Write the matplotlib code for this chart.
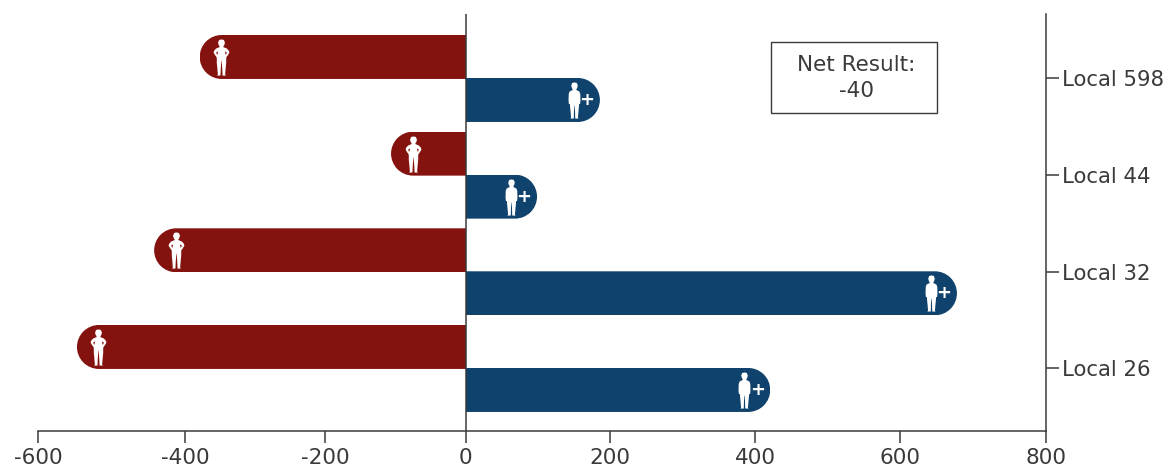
import numpy as np
import matplotlib
matplotlib.use('Agg')
import matplotlib.pyplot as plt
from matplotlib.patches import Rectangle
from matplotlib.path import Path
from matplotlib.transforms import IdentityTransform, offset_copy

# Values
locals_ = ['Local 26', 'Local 32', 'Local 44', 'Local 598']
lost = [-547, -442, -106, -379]
gained = [421, 678, 99, 186]
x_ticks = [-600, -400, -200, 0, 200, 400, 600, 800]
net_lines = 'Net Result:\n-40'

RED = '#84130F'
BLUE = '#0F426C'
INK = '#3A3A3A'
plt.rcParams['font.family'] = ['DejaVu Sans']

W, H = 1174, 466
fig = plt.figure(figsize=(W / 100, H / 100), dpi=100)
ax = fig.add_axes([38 / W, 1 - 431 / H, (1046 - 38) / W, (431 - 14) / H])

# The tick spacing in the original is not quite even, so map it by hand
tick_px = [38, 185, 325, 465.5, 610, 755, 900, 1046]


def forward(v):
    return np.interp(v, x_ticks, tick_px)


def inverse(p):
    return np.interp(p, tick_px, x_ticks)


ax.set_xscale('function', functions=(forward, inverse))
ax.set_xlim(x_ticks[0], x_ticks[-1])
ax.set_ylim(-0.647, 3.667)

y = np.arange(len(locals_))
bar_h = 0.455
red_bars = ax.barh(y + 0.2224, lost, height=bar_h, color=RED, zorder=2)
blue_bars = ax.barh(y - 0.2224, gained, height=bar_h, color=BLUE, zorder=2)


def pill(x0, x1, y0, y1):
    # closed shape with true half circles at both ends, in pixels
    r = (y1 - y0) / 2
    cy = (y0 + y1) / 2
    a = Path.arc(90, 270)
    b = Path.arc(-90, 90)
    verts = np.vstack([a.vertices * r + [x0 + r, cy], b.vertices * r + [x1 - r, cy], [[x0 + r, y1]]])
    codes = list(a.codes) + [Path.LINETO] + list(b.codes[1:]) + [Path.CLOSEPOLY]
    return Path(verts, codes)


# Round the outer end of each bar by clipping it in pixel space
fig.canvas.draw()
for bars, side in ((red_bars, -1), (blue_bars, 1)):
    for bar in bars:
        ext = bar.get_window_extent()
        x0 = ext.x0 if side < 0 else ext.x0 - 60
        x1 = ext.x1 + 60 if side < 0 else ext.x1
        bar.set_clip_path(pill(x0, x1, ext.y0, ext.y1), IdentityTransform())

# Person silhouettes, right half then mirrored
hips_half = [(0, 1), (0.13, 0.97), (0.19, 0.83), (0.16, 0.70), (0.10, 0.62), (0.12, 0.57),
             (0.29, 0.50), (0.39, 0.40), (0.44, 0.28), (0.35, 0.12), (0.27, 0.02),
             (0.26, -0.10), (0.26, -0.30), (0.23, -0.60), (0.20, -0.95), (0.25, -1),
             (0.06, -1), (0.04, -0.60), (0.01, -0.20), (0, -0.15)]
hips_hole = [(0.18, 0.34), (0.24, 0.14), (0.30, 0.27)]
arms_half = [(0, 1), (0.13, 0.97), (0.18, 0.83), (0.15, 0.70), (0.10, 0.62), (0.12, 0.57),
             (0.27, 0.50), (0.32, 0.36), (0.33, 0.00), (0.31, -0.20), (0.25, -0.20),
             (0.25, -0.30), (0.22, -0.60), (0.19, -0.95), (0.23, -1),
             (0.04, -1), (0.03, -0.60), (0.01, -0.30), (0, -0.25)]


def person(half, holes=()):
    left = [(-a, b) for a, b in half[-2:0:-1]]
    outline = list(half) + left
    verts = outline + [outline[0]]
    codes = [Path.MOVETO] + [Path.LINETO] * (len(outline) - 1) + [Path.CLOSEPOLY]
    for hole in holes:
        for sign in (1, -1):
            pts = [(sign * a, b) for a, b in hole]
            if sign == -1:
                pts = pts[::-1]
            verts += pts + [pts[0]]
            codes += [Path.MOVETO] + [Path.LINETO] * (len(pts) - 1) + [Path.CLOSEPOLY]
    return Path(verts, codes)


hips_marker = person(hips_half, [hips_hole])
arms_marker = person(arms_half)
px = 72 / fig.dpi
red_icons = offset_copy(ax.transData, fig=fig, x=21.5 * px, y=0, units='points')
blue_icons = offset_copy(ax.transData, fig=fig, x=-26 * px, y=0, units='points')
ax.plot(lost, y + 0.2224, ls='none', marker=hips_marker, ms=26, mfc='white', mec='none',
        transform=red_icons, zorder=3)
ax.plot(gained, y - 0.2224, ls='none', marker=arms_marker, ms=26, mfc='white', mec='none',
        transform=blue_icons, zorder=3)
for v, yy in zip(gained, y - 0.2224):
    ax.annotate('+', (v, yy), xytext=(-13, 0), textcoords='offset pixels', color='white',
                fontsize=13, fontweight='bold', ha='center', va='center', zorder=3)

# Axes styling
for s in ('top', 'left'):
    ax.spines[s].set_visible(False)
for s in ('bottom', 'right'):
    ax.spines[s].set_color(INK)
    ax.spines[s].set_linewidth(1.1)
ax.axvline(0, color=INK, lw=1.1, zorder=4)
ax.set_xticks(x_ticks, [str(t) for t in x_ticks])
ax.set_yticks(y, locals_)
ax.minorticks_off()
ax.yaxis.tick_right()
ax.tick_params(axis='x', length=8.6, width=1.1, color=INK, labelcolor=INK, labelsize=15.5, pad=3.5)
ax.tick_params(axis='y', length=9, width=1.1, color=INK, labelcolor=INK, labelsize=15.3, pad=2.5)

# Net result box
box_l, box_t, box_r, box_b = 770.5, 41.5, 936.5, 112.5
fig.add_artist(Rectangle((box_l / W, 1 - box_b / H), (box_r - box_l) / W, (box_b - box_t) / H,
                         transform=fig.transFigure, fc='white', ec=INK, lw=1.0))
fig.text(856 / W, 1 - 78 / H, net_lines, ha='center', va='center', color=INK,
         fontsize=15.5, linespacing=1.32)

fig.savefig('out.png', dpi=100)
